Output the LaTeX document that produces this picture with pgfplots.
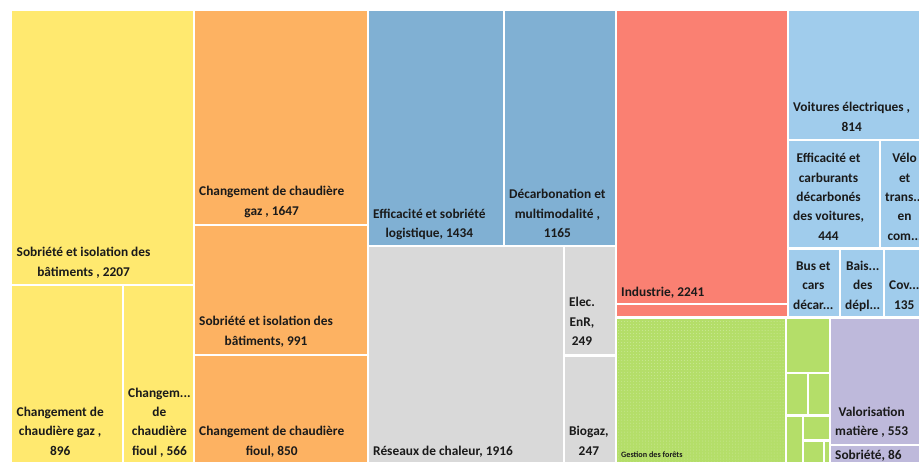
\documentclass[border=0pt]{standalone}
\usepackage{fontspec}
\setmainfont{Carlito}
\usepackage{pgfplots}
\pgfplotsset{compat=1.18}
\usetikzlibrary{patterns}
\definecolor{cY}{HTML}{FFE96F}
\definecolor{cO}{HTML}{FDB262}
\definecolor{cB}{HTML}{80B0D3}
\definecolor{cG}{HTML}{D9D9D9}
\definecolor{cR}{HTML}{FA8072}
\definecolor{cL}{HTML}{A0CCEC}
\definecolor{cV}{HTML}{B4DE69}
\definecolor{cP}{HTML}{BEB9DB}
\definecolor{txt}{HTML}{1A1A1A}
\newcommand{\rect}[5]{\addplot[fill=#1,draw=none,forget plot] coordinates {(#2,#3) (#4,#3) (#4,#5) (#2,#5)} -- cycle;}
\tikzset{lab/.style={anchor=south west,inner sep=0pt,text depth=0pt,align=center,text=txt,
  font=\fontsize{13.4}{19.5}\selectfont\bfseries}}
\begin{document}
\begin{tikzpicture}
\useasboundingbox (0,0) rectangle (919bp,462bp);
\begin{axis}[width=919bp,height=462bp,scale only axis,hide axis,
  xmin=0,xmax=919,ymin=0,ymax=462,y dir=reverse,clip=true]
% yellow group
\rect{cY}{12}{11}{193}{284}
\rect{cY}{12}{286}{122}{470}
\rect{cY}{124}{286}{193}{470}
% orange group
\rect{cO}{195}{11}{367}{224}
\rect{cO}{195}{226}{367}{354}
\rect{cO}{195}{356}{367}{470}
% blue group
\rect{cB}{369}{11}{503}{245}
\rect{cB}{505}{11}{615}{245}
% grey group
\rect{cG}{369}{247}{563}{470}
\rect{cG}{565}{247}{615}{354}
\rect{cG}{565}{357}{615}{470}
% red group
\rect{cR}{617}{11}{787}{303}
\rect{cR}{617}{305}{787}{316}
% green group
\rect{cV}{617}{319}{785}{470}
\addplot[pattern=dots,pattern color=white,draw=none,opacity=0.3,forget plot] coordinates {(617,319) (785,319) (785,470) (617,470)} -- cycle;
\rect{cV}{787}{319}{829}{372}
\rect{cV}{787}{374}{807}{414}
\rect{cV}{809}{374}{829}{414}
\rect{cV}{787}{417}{802}{470}
\rect{cV}{804}{417}{829}{439}
\rect{cV}{804}{442}{823}{470}
\rect{cV}{825}{442}{829}{470}
% purple group
\rect{cP}{831}{319}{925}{444}
\rect{cP}{831}{446}{925}{470}
% light blue group
\rect{cL}{789}{11}{925}{139}
\rect{cL}{789}{141}{879}{247}
\rect{cL}{881}{141}{925}{247}
\rect{cL}{789}{250}{839}{316}
\rect{cL}{841}{250}{883}{316}
\rect{cL}{885}{250}{925}{316}
% labels
\node[lab] at (axis cs:16.5,276.5) {Sobriété et isolation des\\bâtiments , 2207};
\node[lab] at (axis cs:16.5,455.5) {Changement de\\chaudière gaz ,\\896};
\node[lab] at (axis cs:128,455.5) {Changem...\\de\\chaudière\\fioul , 566};
\node[lab] at (axis cs:199,215.5) {Changement de chaudière\\gaz , 1647};
\node[lab] at (axis cs:199,345.5) {Sobriété et isolation des\\bâtiments, 991};
\node[lab] at (axis cs:199,455.5) {Changement de chaudière\\fioul, 850};
\node[lab] at (axis cs:373,238) {Efficacité et sobriété\\logistique, 1434};
\node[lab] at (axis cs:509,238) {Décarbonation et\\multimodalité ,\\1165};
\node[lab] at (axis cs:373,455.5) {Réseaux de chaleur, 1916};
\node[lab] at (axis cs:569,346) {Elec.\\EnR,\\249};
\node[lab] at (axis cs:569,455.5) {Biogaz,\\247};
\node[lab] at (axis cs:621,296.5) {Industrie, 2241};
\node[lab,font=\fontsize{8.2}{9}\selectfont\bfseries] at (axis cs:621,458) {Gestion des forêts};
\node[lab] at (axis cs:835,436) {Valorisation\\matière , 553};
\node[lab] at (axis cs:835,460) {Sobriété, 86};
\node[lab] at (axis cs:793,131.5) {Voitures électriques ,\\814};
\node[lab] at (axis cs:793,240.5) {Efficacité et\\carburants\\décarbonés\\des voitures,\\444};
\node[lab] at (axis cs:885,240.5) {Vélo\\et\\trans...\\en\\com...};
\node[lab] at (axis cs:793,309.5) {Bus et\\cars\\décar...};
\node[lab] at (axis cs:845,309.5) {Bais...\\des\\dépl...};
\node[lab] at (axis cs:889,309.5) {Cov...\\135};
\end{axis}
\end{tikzpicture}
\end{document}
